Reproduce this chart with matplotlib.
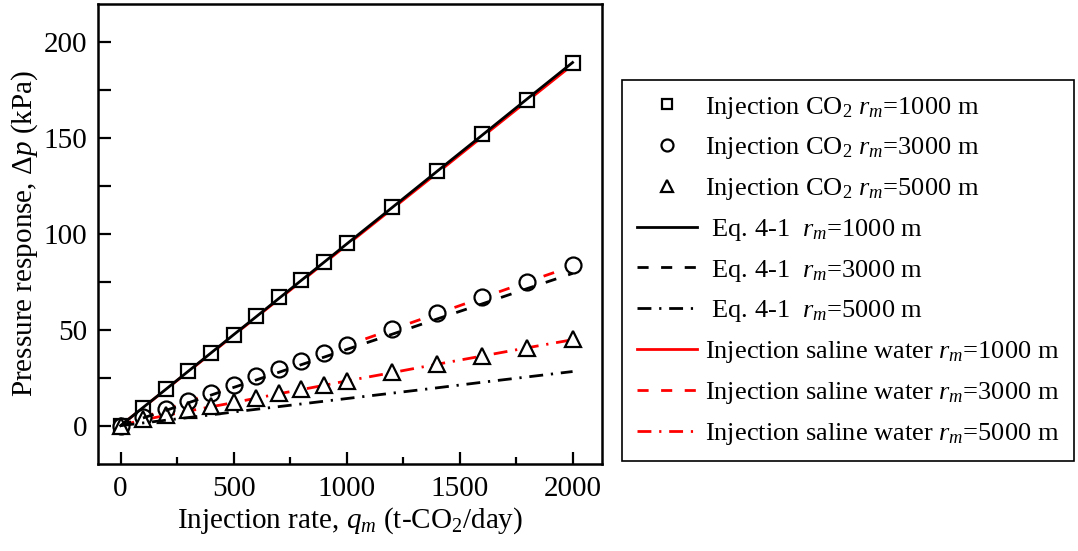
import matplotlib
matplotlib.use("Agg")
import matplotlib.pyplot as plt
from matplotlib.ticker import MultipleLocator

plt.rcParams['font.family'] = ['Liberation Serif', 'DejaVu Serif']
plt.rcParams['mathtext.fontset'] = 'custom'
plt.rcParams['mathtext.rm'] = 'Liberation Serif'
plt.rcParams['mathtext.it'] = 'Liberation Serif:italic'
plt.rcParams['mathtext.bf'] = 'Liberation Serif:bold'

# Injection rate (t-CO2/day)
rate = [0, 100, 200, 300, 400, 500, 600, 700, 800, 900, 1000,
        1200, 1400, 1600, 1800, 2000]

# Simulated pressure response for CO2 injection (kPa)
co2_r1000 = [0, 9.4, 19.0, 28.7, 38.0, 47.5, 57.0, 67.0, 75.7, 85.6, 95.5,
             114.0, 132.6, 152.0, 170.0, 189.0]
co2_r3000 = [0, 4.3, 8.7, 13.0, 17.0, 21.4, 25.7, 29.6, 33.7, 37.9, 42.1,
             50.4, 58.6, 67.0, 75.1, 83.8]
co2_r5000 = [0, 3.5, 5.5, 7.9, 10.0, 12.3, 14.5, 17.0, 19.2, 21.3, 23.5,
             27.8, 32.2, 36.5, 40.7, 45.1]

# Analytical solution, Eq. 4-1 (kPa)
eq_r1000 = [0, 9.5, 18.9, 28.4, 37.9, 47.4, 56.8, 66.3, 75.8, 85.2, 94.7,
            113.6, 132.6, 151.5, 170.5, 189.4]
eq_r3000 = [0, 4.0, 7.9, 11.9, 15.9, 19.9, 23.8, 27.8, 31.8, 35.7, 39.7,
            47.6, 55.6, 63.5, 71.5, 79.4]
eq_r5000 = [0, 1.4, 2.8, 4.2, 5.6, 7.1, 8.5, 9.9, 11.3, 12.7, 14.1,
            16.9, 19.7, 22.6, 25.4, 28.2]

# Simulated pressure response for saline water injection (kPa)
sw_r1000 = [0, 9.4, 18.8, 28.2, 37.6, 47.1, 56.5, 65.9, 75.3, 84.7, 94.1,
            112.9, 131.7, 150.6, 169.4, 188.2]
sw_r3000 = [0, 4.2, 8.4, 12.6, 16.8, 21.0, 25.1, 29.3, 33.5, 37.6, 41.8,
            50.1, 58.4, 66.7, 75.0, 83.2]
sw_r5000 = [0, 3.0, 5.3, 7.6, 9.8, 12.0, 14.3, 16.6, 18.8, 21.0, 23.3,
            27.6, 32.0, 36.3, 40.6, 44.8]

x_ticks = [0, 500, 1000, 1500, 2000]
y_ticks = [0, 50, 100, 150, 200]

dashed = (0, (4, 4.5))
dashdot = (0, (5, 2.8, 0.8, 2.8))

fig = plt.figure(figsize=(10.78, 5.51), dpi=100)
ax = fig.add_axes([0.0909, 0.158, 0.4675, 0.835])

lw = 2.0
# saline water curves sit underneath the markers
h_sw1, = ax.plot(rate, sw_r1000, color='red', lw=lw, ls='-', zorder=1)
h_sw3, = ax.plot(rate, sw_r3000, color='red', lw=lw, ls=dashed, zorder=1)
h_sw5, = ax.plot(rate, sw_r5000, color='red', lw=lw, ls=dashdot, zorder=1)

mk = dict(ls='none', mfc='white', mec='black', mew=1.6, zorder=2)
h_c1, = ax.plot(rate, co2_r1000, marker='s', ms=10, **mk)
h_c3, = ax.plot(rate, co2_r3000, marker='o', ms=11.5, **mk)
h_c5, = ax.plot(rate, co2_r5000, marker='^', ms=12, **mk)

# analytical lines drawn on top
h_e1, = ax.plot(rate, eq_r1000, color='black', lw=lw, ls='-', zorder=3)
h_e3, = ax.plot(rate, eq_r3000, color='black', lw=lw, ls=dashed, zorder=3)
h_e5, = ax.plot(rate, eq_r5000, color='black', lw=lw, ls=dashdot, zorder=3)

ax.set_xlim(-100, 2130)
ax.set_ylim(-20, 220)
ax.set_xticks(x_ticks)
ax.set_yticks(y_ticks)
ax.xaxis.set_minor_locator(MultipleLocator(250))
ax.yaxis.set_minor_locator(MultipleLocator(25))
ax.tick_params(which='both', direction='in', width=1.6, labelsize=21,
               top=False, right=False)
ax.tick_params(axis='x', which='major', length=9, pad=9)
ax.tick_params(axis='x', which='minor', length=5)
ax.tick_params(axis='y', which='both', length=9, pad=8)
for s in ax.spines.values():
    s.set_linewidth(1.8)

ax.set_xlabel(r'Injection rate, $q_m$ (t-CO$_2$/day)', fontsize=21, labelpad=2)
ax.set_ylabel(r'Pressure response, $\mathit{\Delta p}$ (kPa)', fontsize=21,
              labelpad=2)

handles = [h_c1, h_c3, h_c5, h_e1, h_e3, h_e5, h_sw1, h_sw3, h_sw5]
labels = [
    r'Injection CO$_\mathit{2}$ $r_m$=1000 m',
    r'Injection CO$_\mathit{2}$ $r_m$=3000 m',
    r'Injection CO$_\mathit{2}$ $r_m$=5000 m',
    r' Eq. 4-1  $r_m$=1000 m',
    r' Eq. 4-1  $r_m$=3000 m',
    r' Eq. 4-1  $r_m$=5000 m',
    r'Injection saline water $r_m$=1000 m',
    r'Injection saline water $r_m$=3000 m',
    r'Injection saline water $r_m$=5000 m',
]
leg = fig.legend(handles, labels, loc='upper left',
                 bbox_to_anchor=(622 / 1078, 1 - 80 / 551),
                 fontsize=19, frameon=True, fancybox=False,
                 edgecolor='black', framealpha=1, handlelength=2.3,
                 handletextpad=0.3, labelspacing=0.56, borderpad=0.55,
                 borderaxespad=0, markerscale=0.75)
leg.get_frame().set_linewidth(1.2)

fig.savefig('out.png', dpi=100)
